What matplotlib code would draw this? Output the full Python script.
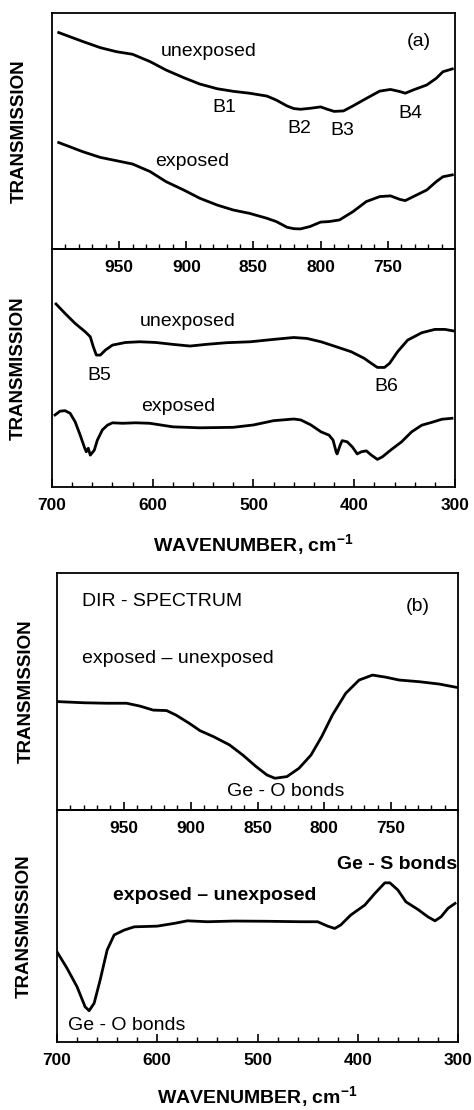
import numpy as np
import matplotlib
matplotlib.use("Agg")
import matplotlib.pyplot as plt

plt.rcParams["font.family"] = ["Liberation Sans", "DejaVu Sans"]
plt.rcParams["mathtext.default"] = "regular"

# ---------- DATA (arbitrary transmission units) ----------
# (a) upper: 1000-700 cm-1
a1_wn = [995, 977, 964, 952, 940, 927, 915, 902, 890, 877, 865, 853, 840, 833, 825, 820,
         815, 808, 800, 795, 790, 783, 776, 766, 756, 748, 741, 737, 731, 721, 714, 709, 702]
a1_unexp = [0.917, 0.879, 0.853, 0.836, 0.825, 0.794, 0.758, 0.726, 0.699, 0.679, 0.668, 0.660,
            0.648, 0.631, 0.606, 0.595, 0.592, 0.596, 0.602, 0.592, 0.583, 0.585, 0.606, 0.638,
            0.669, 0.676, 0.667, 0.660, 0.674, 0.695, 0.723, 0.751, 0.763]
a1_wn_exp = [995, 977, 964, 952, 940, 927, 915, 902, 890, 877, 865, 853, 840, 833, 825, 820,
             815, 808, 800, 794, 786, 776, 766, 756, 748, 741, 737, 731, 721, 714, 709, 702]
a1_exp = [0.451, 0.412, 0.388, 0.374, 0.360, 0.328, 0.285, 0.250, 0.215, 0.186, 0.165, 0.151,
          0.130, 0.116, 0.092, 0.086, 0.085, 0.095, 0.114, 0.116, 0.123, 0.158, 0.201, 0.222,
          0.225, 0.210, 0.205, 0.222, 0.250, 0.285, 0.306, 0.314]

# (a) lower: 700-300 cm-1
a2_wn_unexp = [696, 687, 677, 667, 662, 659, 656, 652, 647, 640, 627, 613, 597, 580, 563, 547,
               527, 503, 480, 460, 447, 433, 420, 403, 390, 383, 377, 370, 365, 357, 347, 333,
               320, 310, 302]
a2_unexp = [0.769, 0.729, 0.687, 0.652, 0.631, 0.589, 0.554, 0.554, 0.575, 0.596, 0.607, 0.610,
            0.607, 0.599, 0.592, 0.599, 0.606, 0.610, 0.620, 0.628, 0.624, 0.610, 0.592, 0.568,
            0.540, 0.519, 0.502, 0.502, 0.519, 0.568, 0.617, 0.648, 0.662, 0.662, 0.656]
a2_wn_exp = [697, 692, 687, 682, 677, 672, 668, 666, 664, 662, 658, 655, 650, 645, 640, 630,
             617, 603, 580, 553, 520, 500, 480, 460, 453, 443, 433, 425, 421, 418, 417, 414,
             412, 407, 402, 397, 393, 388, 383, 377, 372, 363, 353, 343, 333, 323, 313, 303]
a2_exp = [0.302, 0.318, 0.320, 0.309, 0.273, 0.217, 0.168, 0.147, 0.162, 0.133, 0.154, 0.196,
          0.239, 0.259, 0.269, 0.267, 0.269, 0.267, 0.252, 0.248, 0.250, 0.260, 0.278, 0.285,
          0.281, 0.260, 0.231, 0.217, 0.196, 0.147, 0.138, 0.175, 0.194, 0.189, 0.168, 0.138,
          0.147, 0.151, 0.133, 0.115, 0.126, 0.157, 0.189, 0.231, 0.259, 0.271, 0.284, 0.288]

# (b) upper: difference spectrum 1000-700 cm-1
b1_wn = [1000, 980, 963, 948, 938, 928, 918, 911, 901, 893, 883, 871, 861, 851, 843, 837,
         828, 819, 810, 802, 794, 784, 774, 764, 754, 744, 729, 714, 701]
b1_diff = [0.458, 0.453, 0.451, 0.451, 0.439, 0.422, 0.420, 0.401, 0.366, 0.335, 0.310, 0.275,
           0.232, 0.183, 0.148, 0.134, 0.141, 0.176, 0.232, 0.310, 0.401, 0.493, 0.549, 0.570,
           0.561, 0.549, 0.542, 0.532, 0.518]

# (b) lower: difference spectrum 700-300 cm-1
b2_wn = [700, 690, 680, 672, 668, 663, 657, 650, 643, 633, 623, 600, 583, 570, 550, 523,
         490, 457, 440, 430, 423, 417, 407, 393, 383, 373, 368, 360, 352, 340, 330, 323,
         317, 310, 303]
b2_diff = [0.388, 0.317, 0.237, 0.151, 0.134, 0.166, 0.266, 0.396, 0.461, 0.482, 0.496, 0.499,
           0.511, 0.522, 0.518, 0.521, 0.520, 0.518, 0.518, 0.499, 0.489, 0.504, 0.547, 0.590,
           0.640, 0.686, 0.686, 0.655, 0.604, 0.571, 0.539, 0.522, 0.539, 0.576, 0.597]

ticks_hi = [950, 900, 850, 800, 750]
ticks_lo = [700, 600, 500, 400, 300]

# ---------- FIGURE ----------
fig = plt.figure(figsize=(4.74, 11.10), dpi=100)

ax_a1 = fig.add_axes([0.1097, 0.7757, 0.8502, 0.2126])
ax_a2 = fig.add_axes([0.1097, 0.5615, 0.8502, 0.2141])
ax_b1 = fig.add_axes([0.1203, 0.2703, 0.8460, 0.2132])
ax_b2 = fig.add_axes([0.1203, 0.0615, 0.8460, 0.2087])

LW = 2.0
TXT = 14


def style(ax, xlim, major, minor_step, ylab_x):
    ax.set_xlim(*xlim)
    ax.set_ylim(0, 1)
    ax.patch.set_visible(False)
    ax.set_xticks(major)
    lo, hi = min(xlim), max(xlim)
    ax.set_xticks(np.arange(lo + minor_step, hi, minor_step), minor=True)
    ax.set_yticks([])
    ax.tick_params(axis="x", which="both", direction="in", top=False, pad=8, labelsize=12.5)
    ax.tick_params(axis="x", which="major", length=6, width=1.2)
    ax.tick_params(axis="x", which="minor", length=3.5, width=1.0)
    for lbl in ax.get_xticklabels():
        lbl.set_fontweight("bold")
    for s in ax.spines.values():
        s.set_linewidth(1.3)
    ax.set_ylabel("TRANSMISSION", fontsize=13.5, fontweight="bold")
    ax.yaxis.set_label_coords(ylab_x, 0.5)


# (a) upper
ax_a1.plot(a1_wn, a1_unexp, color="black", lw=LW, solid_joinstyle="round")
ax_a1.plot(a1_wn_exp, a1_exp, color="black", lw=LW, solid_joinstyle="round")
style(ax_a1, (1000, 700), ticks_hi, 10, -0.06)
ax_a1.text(883, 0.836, "unexposed", fontsize=TXT, ha="center", va="center")
ax_a1.text(896, 0.370, "exposed", fontsize=TXT, ha="center", va="center")
ax_a1.text(872, 0.600, "B1", fontsize=TXT, ha="center", va="center")
ax_a1.text(816, 0.511, "B2", fontsize=TXT, ha="center", va="center")
ax_a1.text(784, 0.504, "B3", fontsize=TXT, ha="center", va="center")
ax_a1.text(733, 0.575, "B4", fontsize=TXT, ha="center", va="center")
ax_a1.text(727, 0.879, "(a)", fontsize=TXT, ha="center", va="center")

# (a) lower
ax_a2.plot(a2_wn_unexp, a2_unexp, color="black", lw=LW, solid_joinstyle="round")
ax_a2.plot(a2_wn_exp, a2_exp, color="black", lw=LW, solid_joinstyle="round")
style(ax_a2, (700, 300), ticks_lo, 20, -0.062)
ax_a2.text(565, 0.694, "unexposed", fontsize=TXT, ha="center", va="center")
ax_a2.text(575, 0.337, "exposed", fontsize=TXT, ha="center", va="center")
ax_a2.text(653, 0.470, "B5", fontsize=TXT, ha="center", va="center")
ax_a2.text(368, 0.421, "B6", fontsize=TXT, ha="center", va="center")
ax_a2.set_xlabel("WAVENUMBER, cm$^{-1}$", fontsize=14, fontweight="bold")
ax_a2.xaxis.set_label_coords(0.5, -0.244)
ax_a2.xaxis.label.set_va("center")

# (b) upper
ax_b1.plot(b1_wn, b1_diff, color="black", lw=LW, solid_joinstyle="round")
style(ax_b1, (1000, 700), ticks_hi, 10, -0.055)
ax_b1.text(981, 0.880, "DIR - SPECTRUM", fontsize=TXT, ha="left", va="center")
ax_b1.text(730, 0.859, "(b)", fontsize=TXT, ha="center", va="center")
ax_b1.text(981, 0.641, "exposed \u2013 unexposed", fontsize=TXT, ha="left", va="center")
ax_b1.text(829, 0.077, "Ge - O bonds", fontsize=TXT, ha="center", va="center")

# (b) lower
ax_b2.plot(b2_wn, b2_diff, color="black", lw=LW, solid_joinstyle="round")
style(ax_b2, (700, 300), ticks_lo, 20, -0.06)
ax_b2.text(361, 0.763, "Ge - S bonds", fontsize=TXT, ha="center", va="center", fontweight="bold")
ax_b2.text(543, 0.633, "exposed \u2013 unexposed", fontsize=TXT, ha="center", va="center",
           fontweight="bold")
ax_b2.text(631, 0.072, "Ge - O bonds", fontsize=TXT, ha="center", va="center")
ax_b2.set_xlabel("WAVENUMBER, cm$^{-1}$", fontsize=14, fontweight="bold")
ax_b2.xaxis.set_label_coords(0.5, -0.238)
ax_b2.xaxis.label.set_va("center")

fig.savefig("out.png", dpi=100)
plt.close(fig)
